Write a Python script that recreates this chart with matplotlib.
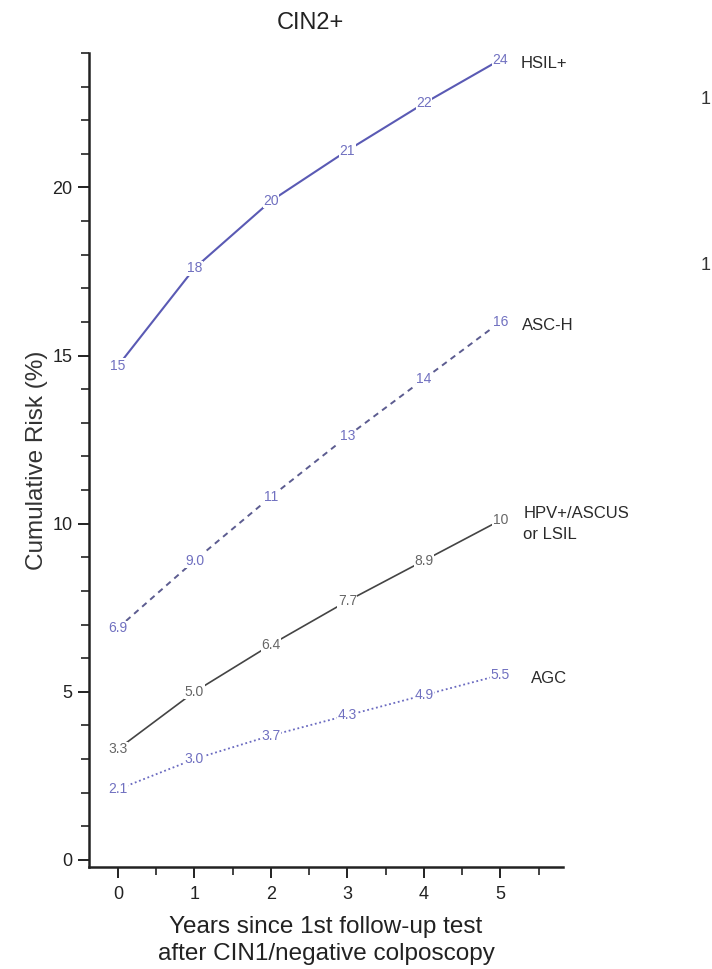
import matplotlib.pyplot as plt
from matplotlib.ticker import MultipleLocator

plt.rcParams['font.family'] = ['Liberation Sans', 'DejaVu Sans']

years = [0, 1, 2, 3, 4, 5]

hsil = [14.7, 17.6, 19.6, 21.1, 22.5, 23.8]
hsil_labels = ['15', '18', '20', '21', '22', '24']

asch = [6.9, 8.9, 10.8, 12.6, 14.3, 16.0]
asch_labels = ['6.9', '9.0', '11', '13', '14', '16']

hpv = [3.3, 5.0, 6.4, 7.7, 8.9, 10.1]
hpv_labels = ['3.3', '5.0', '6.4', '7.7', '8.9', '10']

agc = [2.1, 3.0, 3.7, 4.3, 4.9, 5.5]
agc_labels = ['2.1', '3.0', '3.7', '4.3', '4.9', '5.5']

series = [
    (hsil, hsil_labels, 'HSIL+', 5.27, '-', '#5a5ab4', '#7070c0', 1.5),
    (asch, asch_labels, 'ASC-H', 5.29, (0, (3, 2.5)), '#5c5c90', '#7070c0', 1.4),
    (hpv, hpv_labels, 'HPV+/ASCUS\nor LSIL', 5.3, '-', '#444444', '#666666', 1.2),
    (agc, agc_labels, 'AGC', 5.4, (0, (1, 1.5)), '#6a6ac0', '#7070c0', 1.3),
]

fig = plt.figure(figsize=(7.12, 9.69), dpi=100)
ax = fig.add_axes([0.125, 0.1053, 0.6657, 0.840])

for vals, labs, name, xpos, ls, lc, tc, lw in series:
    ax.plot(years, vals, linestyle=ls, color=lc, linewidth=lw, zorder=2)
    for x, v, s in zip(years, vals, labs):
        ax.text(x, v, s, fontsize=10, color=tc, ha='center', va='center',
                zorder=3, bbox=dict(facecolor='white', edgecolor='none', pad=0.3))
    ax.text(xpos, vals[-1] - 0.1, name, fontsize=12, color='#2a2a2a',
            ha='left', va='center', linespacing=1.5)

ax.set_xlim(-0.38, 5.82)
ax.set_ylim(-0.21, 24)
ax.xaxis.set_major_locator(MultipleLocator(1))
ax.xaxis.set_minor_locator(MultipleLocator(0.5))
ax.yaxis.set_major_locator(MultipleLocator(5))
ax.yaxis.set_minor_locator(MultipleLocator(1))
ax.set_xticks([0, 1, 2, 3, 4, 5])
ax.set_yticks([0, 5, 10, 15, 20])

for side in ['top', 'right']:
    ax.spines[side].set_visible(False)
for side in ['left', 'bottom']:
    ax.spines[side].set_linewidth(1.8)
    ax.spines[side].set_color('#222222')

ax.tick_params(which='major', direction='out', length=8, width=1.4,
               labelsize=13, colors='#222222')
ax.tick_params(axis='x', which='major', pad=6)
ax.tick_params(axis='y', which='major', pad=4)
ax.tick_params(which='minor', direction='out', length=5.5, width=1.2,
               colors='#222222')

ax.set_ylabel('Cumulative Risk (%)', fontsize=17.5, color='#333333', labelpad=3)
ax.set_xlabel('Years since 1st follow-up test\nafter CIN1/negative colposcopy',
              fontsize=17.5, color='#222222', labelpad=9, linespacing=1.3)

fig.text(310 / 712, 1 - 23 / 969, 'CIN2+', fontsize=17, color='#222222',
         ha='center', va='center')

# cut-off tick labels of the neighbouring panel
fig.text(701 / 712, 1 - 100 / 969, '1', fontsize=13, color='#333333',
         ha='left', va='center')
fig.text(701 / 712, 1 - 265 / 969, '1', fontsize=13, color='#333333',
         ha='left', va='center')

fig.savefig('out.png', dpi=100)
